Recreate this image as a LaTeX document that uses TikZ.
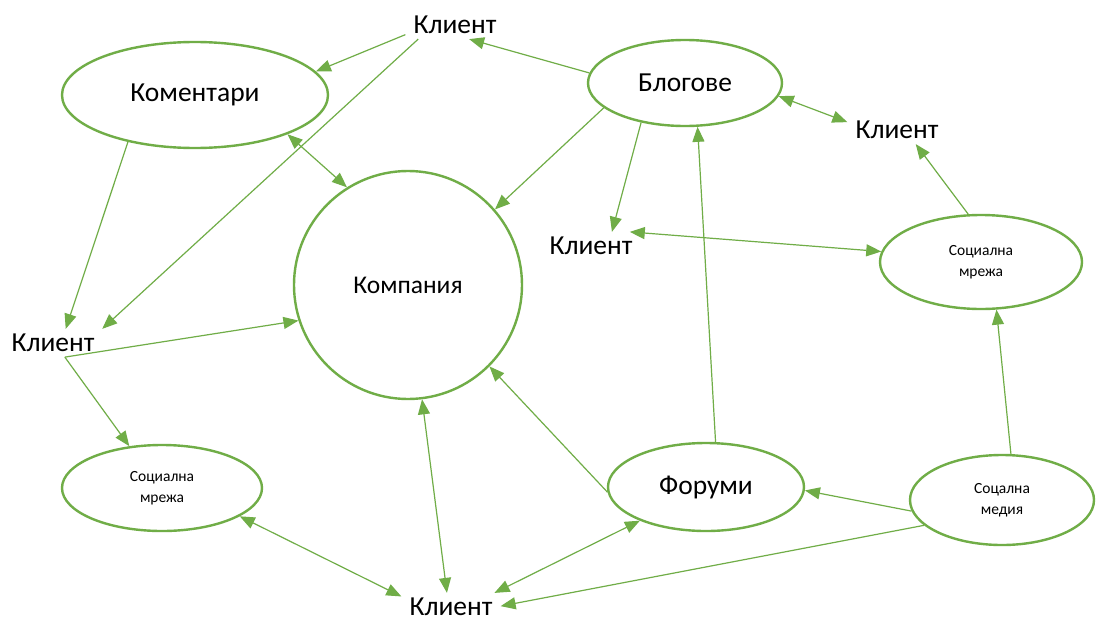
\documentclass[tikz,border=0pt]{standalone}
\usepackage{fontspec}
\setmainfont{Carlito}
\usetikzlibrary{shapes.geometric,arrows.meta}
\definecolor{gr}{RGB}{112,173,71}
\begin{document}
\begin{tikzpicture}[x=1pt,y=-1pt,
  ell/.style={ellipse,draw=gr,line width=2.4pt,inner sep=0pt},
  cl/.style={inner xsep=8pt,inner ysep=5pt,font=\fontsize{27.5}{32}\selectfont},
  big/.style={font=\fontsize{27.5}{32}\selectfont},
  small/.style={font=\fontsize{15.5}{21}\selectfont,align=center},
  con/.style={draw=gr,line width=1.2pt},
  one/.style={con,-{Triangle[length=15pt,width=12pt]}},
  two/.style={con,{Triangle[length=15pt,width=12pt]}-{Triangle[length=15pt,width=12pt]}}]
\fill[white] (0,0) rectangle (1100,621);
\useasboundingbox (0,0) rectangle (1100,621);
% nodes
\node[cl] (k1) at (455,25) {Клиент};
\node[cl] (k2) at (897,130) {Клиент};
\node[cl] (k3) at (591,246) {Клиент};
\node[cl] (k4) at (53,343) {Клиент};
\node[cl] (k5) at (451,607) {Клиент};
\node[ell,big,minimum width=266pt,minimum height=106pt] (kom) at (195,95) {Коментари};
\node[ell,big,minimum width=194pt,minimum height=86pt] (blog) at (685,83) {Блогове};
\node[circle,draw=gr,line width=2.4pt,inner sep=0pt,font=\fontsize{25.5}{30}\selectfont,minimum size=228pt] (comp) at (408,285) {Компания};
\node[ell,small,minimum width=202pt,minimum height=94pt] (sm1) at (981,262) {Социална\\мрежа};
\node[ell,small,minimum width=200pt,minimum height=86pt] (sm2) at (162,488) {Социална\\мрежа};
\node[ell,big,minimum width=196pt,minimum height=88pt] (forum) at (706,487) {Форуми};
\node[ell,small,minimum width=184pt,minimum height=90pt] (smed) at (1002,500) {Соцална\\медия};
% connectors
\draw[one] (k1.191) -- (kom.11.5);
\draw[one] (k1.201) -- (k4.16);
\draw[one] (blog.174) -- (k1.-45);
\draw[two] (kom.-23.4) -- (comp.122.3);
\draw[one] (kom.-145.6) -- (k4.48.8);
\draw[one] (blog.197.2) -- (comp.41);
\draw[one] (blog.222.3) -- (k3.34.3);
\draw[two] (blog.-8) -- (k2.171.3);
\draw[one] (sm1.105.8) -- (k2.-37.9);
\draw[two] (k3.20) -- (sm1.174.5);
\draw[one] (forum.78.4) -- (blog.-74.4);
\draw[one] (k4.-50) -- (comp.198.4);
\draw[one] (k4.-50) -- (sm2.128.8);
\draw[two] (sm2.-20.7) -- (k5.168.2);
\draw[two] (comp.-83.4) -- (k5.106);
\draw[one] (forum.183) -- (comp.-45.3);
\draw[two] (forum.207.9) -- (k5.18.8);
\draw[one] (smed.187.6) -- (forum.-2.9);
\draw[one] (smed.198.4) -- (k5.1.3);
\draw[one] (smed.79.9) -- (sm1.-72.7);
\end{tikzpicture}
\end{document}
